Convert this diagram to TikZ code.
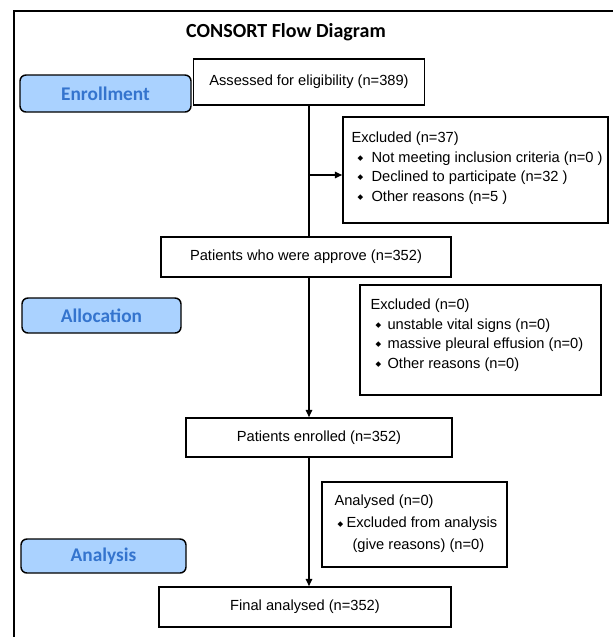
\documentclass[tikz,border=0pt]{standalone}
\usepackage{fontspec}
\setmainfont{Liberation Sans}
\newfontfamily\carlito{Carlito}
\newfontfamily\dejavu{DejaVu Sans}
\usetikzlibrary{arrows.meta}
\definecolor{phasefill}{RGB}{170,210,255}
\definecolor{phasetext}{RGB}{52,116,206}
\newcommand{\dmd}{\raisebox{1.2pt}{\dejavu\fontsize{5.5pt}{5.5pt}\selectfont ◆}}
\newcommand{\lstbullet}[2]{\hspace*{#1}\makebox[#2][l]{\dmd}}
\tikzset{
  flowbox/.style={draw, line width=1.1pt, inner sep=0pt, font=\fontsize{11pt}{14.6pt}\selectfont},
  phasebox/.style={draw, line width=1.1pt, rounded corners=4.5pt, fill=phasefill,
    text=phasetext, inner sep=0pt, font=\carlito\bfseries\fontsize{14.5pt}{16pt}\selectfont},
  listtext/.style={inner sep=0pt, align=left, font=\fontsize{11pt}{14.6pt}\selectfont},
  link/.style={line width=1.3pt},
  flow/.style={line width=1.3pt, -{Triangle[length=5.5pt,width=4.75pt]}},
  frame/.style={line width=2.2pt}
}
\begin{document}
\begin{tikzpicture}[x=0.75pt,y=-0.75pt]
\useasboundingbox (0,0) rectangle (613,637);
% outer frame, open to the right and bottom
\coordinate (framecorner) at (14,11);
\draw[frame] (14,650) -- (framecorner) -- (625,11);
\node[font=\carlito\bfseries\fontsize{15pt}{18pt}\selectfont] (title) at (286,32) {CONSORT Flow Diagram};

% main column
\node[flowbox, minimum width=173.25pt, minimum height=34.5pt] (box1) at (309,82) {Assessed for eligibility (n=389)};
\node[flowbox, minimum width=217.5pt, minimum height=30pt] (box2) at (306,257) {Patients who were approve (n=352)};
\node[flowbox, minimum width=199.5pt, minimum height=29.25pt] (box3) at (319,437.5) {Patients enrolled (n=352)};
\node[flowbox, minimum width=219pt, minimum height=30pt] (box4) at (305,607) {Final analysed (n=352)};

% phase labels
\node[phasebox, minimum width=128.25pt, minimum height=27.75pt] (enroll) at (105.5,93.5) {Enrollment};
\node[phasebox, minimum width=119.25pt, minimum height=26.25pt] (alloc) at (101.5,315.5) {Allocation};
\node[phasebox, minimum width=123.75pt, minimum height=25.5pt] (analysis) at (103.5,556) {Analysis};

% side boxes
\node[flowbox, minimum width=198.75pt, minimum height=79.5pt] (ex1) at (475.5,170) {};
\node[listtext, anchor=west] (ex1txt) at ([shift={(9,-2)}]ex1.west) {Excluded (n=37)\\
  \lstbullet{4.5pt}{10.5pt}Not meeting inclusion criteria (n=0 )\\
  \lstbullet{4.5pt}{10.5pt}Declined to participate (n=32 )\\
  \lstbullet{4.5pt}{10.5pt}Other reasons (n=5 )};
\node[flowbox, minimum width=180.75pt, minimum height=82.5pt] (ex2) at (480.5,340) {};
\node[listtext, anchor=west] (ex2txt) at ([shift={(11,-5)}]ex2.west) {Excluded (n=0)\\
  \lstbullet{3.75pt}{9pt}unstable vital signs (n=0)\\
  \lstbullet{3.75pt}{9pt}massive pleural effusion (n=0)\\
  \lstbullet{3.75pt}{9pt}Other reasons (n=0)};
\node[flowbox, minimum width=138.75pt, minimum height=63.75pt] (anl) at (414.5,524.5) {};
\node[listtext, anchor=west, font=\fontsize{11pt}{16.5pt}\selectfont] (anltxt) at ([shift={(13,-0.5)}]anl.west) {Analysed (n=0)\\
  \lstbullet{2.25pt}{6.75pt}Excluded from analysis\\
  \hspace*{13.5pt}(give reasons) (n=0)};

% connectors
\coordinate (exarrow) at ([yshift=-3.75pt]ex1.west);
\draw[link] (box1.south) -- (box1.south |- box2.north);
\draw[flow] (box1.south |- exarrow) -- (exarrow);
\draw[flow] (box1.south |- box2.south) -- (box1.south |- box3.north);
\draw[flow] (box1.south |- box3.south) -- (box1.south |- box4.north);
\end{tikzpicture}
\end{document}
